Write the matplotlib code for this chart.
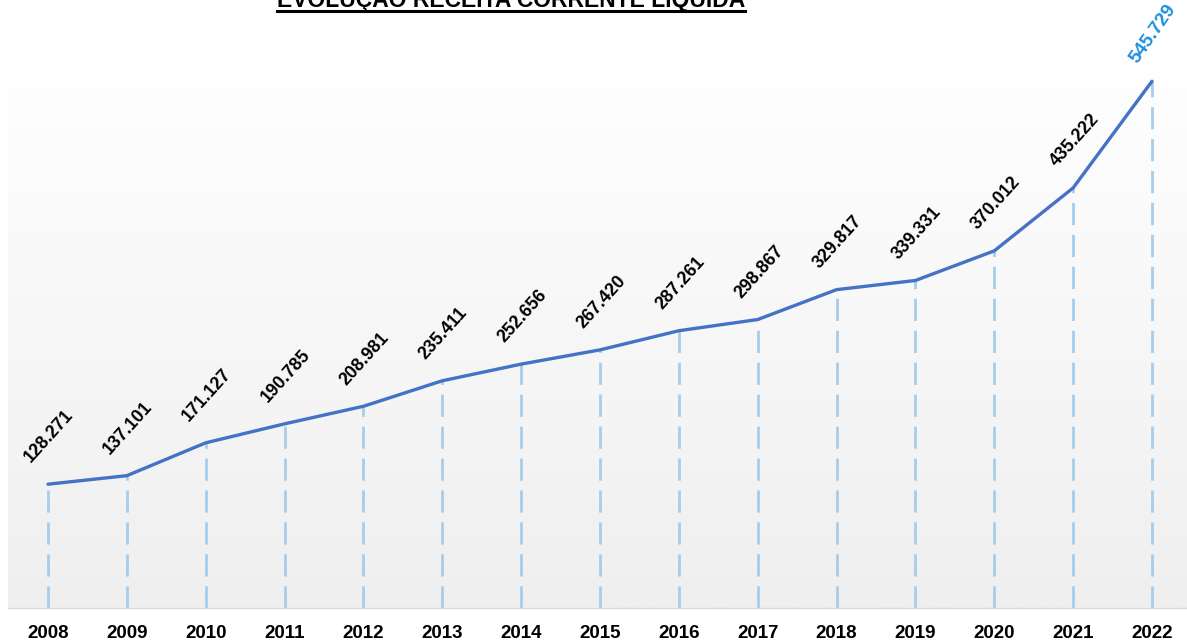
"""Evolução da receita corrente líquida, 2008-2022."""

import matplotlib
matplotlib.use("Agg")
import matplotlib.pyplot as plt
import numpy as np

years = [2008, 2009, 2010, 2011, 2012, 2013, 2014, 2015,
         2016, 2017, 2018, 2019, 2020, 2021, 2022]
values = [128.271, 137.101, 171.127, 190.785, 208.981, 235.411, 252.656, 267.420,
          287.261, 298.867, 329.817, 339.331, 370.012, 435.222, 545.729]
value_labels = ["128.271", "137.101", "171.127", "190.785", "208.981", "235.411",
                "252.656", "267.420", "287.261", "298.867", "329.817", "339.331",
                "370.012", "435.222", "545.729"]
title = "EVOLUÇÃO RECEITA CORRENTE LÍQUIDA"

LINE_COLOR = "#4472C4"
DROP_COLOR = "#A7CDEA"
LAST_COLOR = "#1E8FE0"

plt.rcParams["font.family"] = ["Liberation Sans", "DejaVu Sans"]


def main() -> None:
    fig = plt.figure(figsize=(11.87, 6.42), dpi=100)
    ax = fig.add_axes([8 / 1187, 1 - 608 / 642, 1179 / 1187, 555 / 642])

    x0, x1 = 2007.493, 2022.444
    y0, y1 = 0, 575
    ax.set_xlim(x0, x1)
    ax.set_ylim(y0, y1)

    # soft vertical gradient behind the plot
    grad = np.linspace(1.0, 0.0, 256).reshape(-1, 1)
    ax.imshow(grad, extent=(x0, x1, y0, y1), aspect="auto", origin="lower",
              cmap=matplotlib.colors.LinearSegmentedColormap.from_list(
                  "bg", ["#FFFFFF", "#EFEFEF"]), zorder=0)

    ax.vlines(years, 0, values, colors=DROP_COLOR, linewidth=2,
              linestyles=[(0, (8, 3.5))], zorder=1)
    ax.plot(years, values, color=LINE_COLOR, linewidth=2.4, zorder=3,
            solid_capstyle="round")

    for i, (yr, val, lab) in enumerate(zip(years, values, value_labels)):
        last = i == len(years) - 1
        ax.annotate(lab, (yr, val), xytext=(1, 13 if not last else 11),
                    textcoords="offset points",
                    ha="center", va="bottom", rotation=55 if last else 48,
                    fontsize=13.5 if last else 12.8, fontweight="bold",
                    color=LAST_COLOR if last else "black", zorder=4)

    ax.set_xticks(years)
    ax.set_xticklabels([str(y) for y in years], fontsize=13.5, fontweight="bold")
    ax.tick_params(axis="x", length=0, pad=12)
    ax.set_yticks([])
    for side in ["top", "left", "right"]:
        ax.spines[side].set_visible(False)
    ax.spines["bottom"].set_color("#DCDCDC")
    ax.spines["bottom"].set_linewidth(1)

    # title sits partly above the canvas, underlined
    t = fig.text(511 / 1187, 1 - 7 / 642, title, ha="center", va="baseline",
                 fontsize=16.5, fontweight="bold")
    fig.canvas.draw()
    bb = t.get_window_extent()
    uy = 1 - 11 / 642
    fig.add_artist(plt.Line2D([bb.x0 / 1187, bb.x1 / 1187], [uy, uy],
                              color="black", linewidth=2.2))

    fig.savefig("out.png", dpi=100)


if __name__ == "__main__":
    main()
